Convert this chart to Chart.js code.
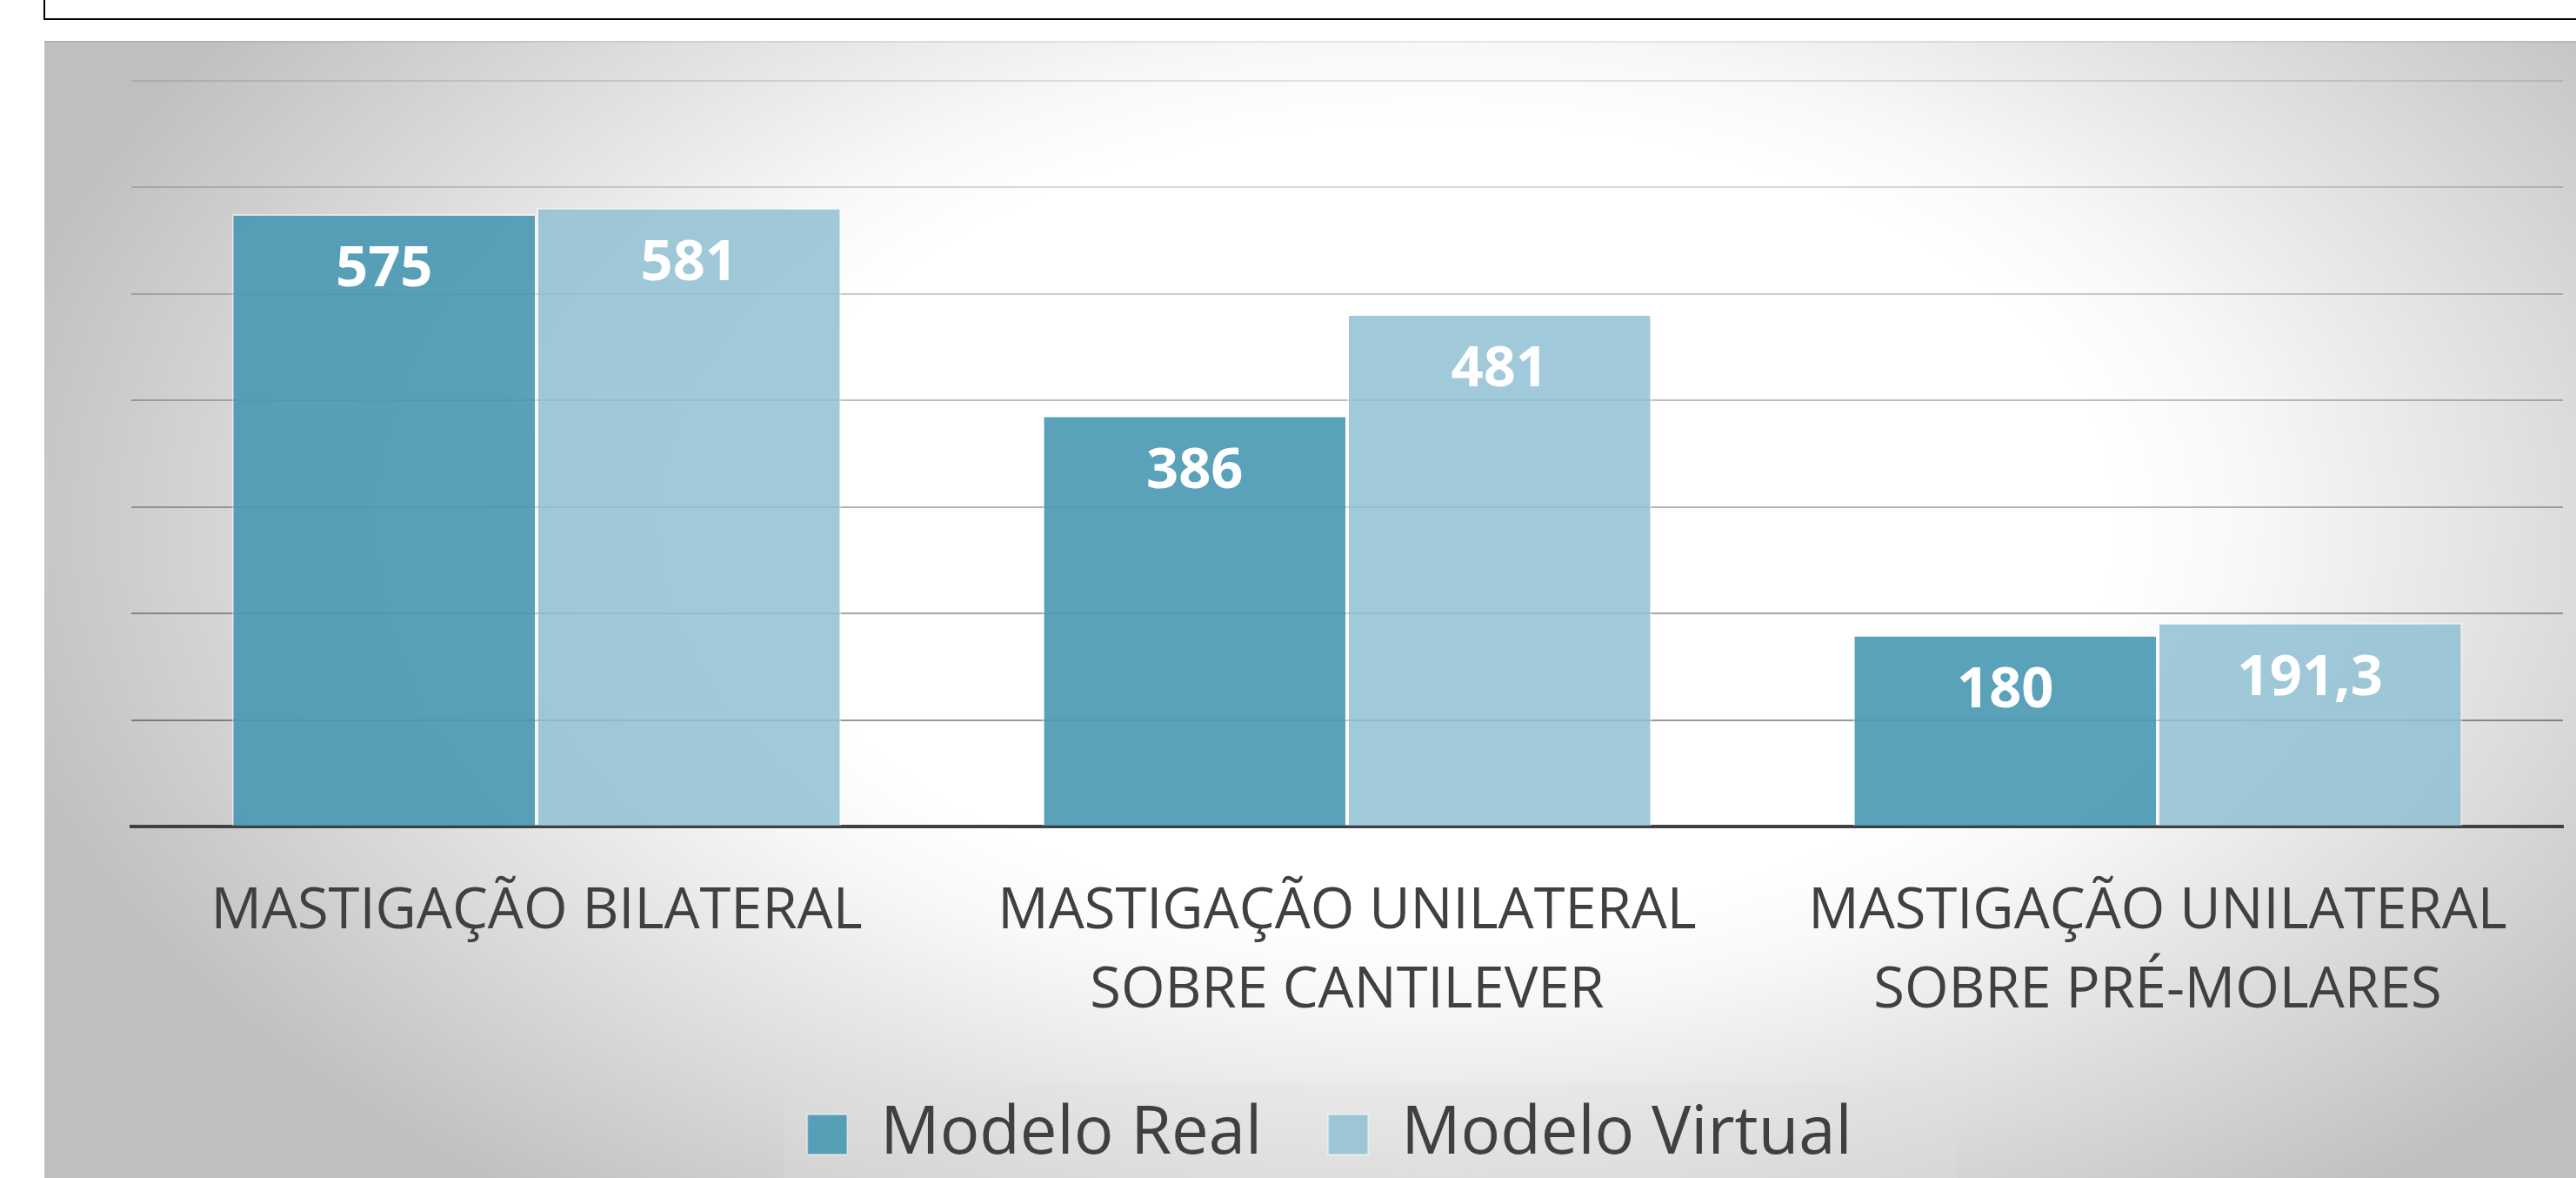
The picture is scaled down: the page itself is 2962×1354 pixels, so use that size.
<!DOCTYPE html>
<html>
<head>
<meta charset="utf-8">
<script src="https://cdn.jsdelivr.net/npm/chart.js@4/dist/chart.umd.min.js"></script>
<style>
html,body{margin:0;padding:0;background:#ffffff;overflow:hidden;width:2962px;height:1354px;}
#topbox{position:absolute;left:50px;top:-12px;width:3000px;height:35px;box-sizing:border-box;border:2px solid #000;background:#fff;}
#c{position:absolute;left:51px;top:47px;}
</style>
</head>
<body>
<div id="topbox"></div>
<canvas id="c" width="2961" height="1320"></canvas>
<script>
// ---- data ----
const categories = [
  ["MASTIGAÇÃO BILATERAL"],
  ["MASTIGAÇÃO UNILATERAL", "SOBRE CANTILEVER"],
  ["MASTIGAÇÃO UNILATERAL", "SOBRE PRÉ-MOLARES"]
];
const seriesNames = ["Modelo Real", "Modelo Virtual"];
const modeloReal = [575, 386, 180];
const modeloVirtual = [581, 481, 191.3];
const yMin = 0;
const yMax = 700;
const yStep = 100;

// ---- plugins ----
const backgroundPlugin = {
  id: 'bgPanel',
  beforeDraw(chart) {
    const {ctx, width, height} = chart;
    const cx = 1599, cy = 553, ax = 1700, ay = 1000;
    ctx.save();
    ctx.translate(cx, cy);
    ctx.scale(ax, ay);
    const g = ctx.createRadialGradient(0, 0, 0, 0, 0, 1);
    g.addColorStop(0, '#ffffff');
    g.addColorStop(0.46, '#ffffff');
    g.addColorStop(0.55, '#f8f8f8');
    g.addColorStop(1, '#bfbfbf');
    ctx.fillStyle = g;
    ctx.fillRect(-cx / ax, -cy / ay, width / ax, height / ay);
    ctx.restore();
    ctx.save();
    ctx.fillStyle = 'rgba(0,0,0,0.07)';
    ctx.fillRect(0, 0, width, 2);
    // faint legend panel
    if (chart.legend) {
      ctx.fillStyle = 'rgba(225,225,225,0.25)';
      ctx.fillRect(850, chart.legend.top + 54, 1350, height);
    }
    ctx.restore();
  }
};

const valueLabelPlugin = {
  id: 'valueLabels',
  afterDatasetsDraw(chart) {
    const ctx = chart.ctx;
    const size = 65;
    ctx.save();
    ctx.font = 'bold ' + size + 'px "Open Sans"';
    ctx.fillStyle = '#ffffff';
    ctx.textAlign = 'center';
    ctx.textBaseline = 'alphabetic';
    chart.data.datasets.forEach((ds, i) => {
      chart.getDatasetMeta(i).data.forEach((bar, j) => {
        const txt = String(ds.data[j]).replace('.', ',');
        ctx.fillText(txt, bar.x, bar.y + 60 + 0.357 * size);
      });
    });
    ctx.restore();
  }
};

function draw() {
  Chart.defaults.font.family = '"Open Sans", "Noto Sans", sans-serif';
  Chart.defaults.color = '#404040';
  new Chart(document.getElementById('c'), {
    type: 'bar',
    data: {
      labels: categories,
      datasets: [
        {
          label: seriesNames[0],
          data: modeloReal,
          backgroundColor: 'rgba(72,152,177,0.9)',
          borderColor: 'rgba(255,255,255,0.45)',
          borderWidth: 2
        },
        {
          label: seriesNames[1],
          data: modeloVirtual,
          backgroundColor: 'rgba(143,192,211,0.85)',
          borderColor: 'rgba(255,255,255,0.45)',
          borderWidth: 2
        }
      ]
    },
    options: {
      responsive: false,
      animation: false,
      devicePixelRatio: 1,
      layout: {padding: {left: 60, right: 65, top: 46, bottom: 15}},
      datasets: {bar: {categoryPercentage: 0.752, barPercentage: 1}},
      plugins: {
        legend: {
          position: 'bottom',
          labels: {
            font: {size: 76},
            color: '#404040',
            boxWidth: 46,
            boxHeight: 46,
            padding: 76
          }
        },
        tooltip: {enabled: false}
      },
      scales: {
        x: {
          z: 1,
          grid: {display: false, drawTicks: false},
          border: {display: true, color: '#404040', width: 4},
          ticks: {
            font: {size: 65, lineHeight: 1.415},
            color: '#404040',
            padding: 52,
            maxRotation: 0,
            minRotation: 0,
            autoSkip: false
          },
          afterFit: (scale) => { scale.height = 240; }
        },
        y: {
          min: yMin,
          max: yMax,
          ticks: {display: false, stepSize: yStep},
          grid: {
            drawTicks: false,
            lineWidth: 2,
            color: (c) => {
              const v = c.tick ? c.tick.value : 0;
              if (v <= 0) return 'rgba(0,0,0,0)';
              const a = 0.45 - 0.05 * (v / 100);
              return 'rgba(0,0,0,' + a.toFixed(3) + ')';
            }
          },
          border: {display: false},
          afterFit: (scale) => { scale.width = 40; }
        }
      }
    },
    plugins: [backgroundPlugin, valueLabelPlugin]
  });
}

if (document.fonts && document.fonts.load) {
  Promise.all([
    document.fonts.load('65px "Open Sans"'),
    document.fonts.load('bold 65px "Open Sans"')
  ]).then(draw, draw);
} else {
  draw();
}
</script>
</body>
</html>
